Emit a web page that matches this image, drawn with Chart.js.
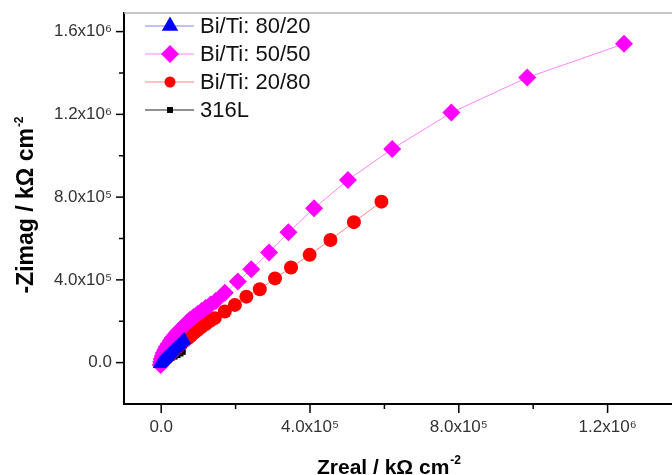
<!DOCTYPE html>
<html><head><meta charset="utf-8">
<script src="https://cdn.jsdelivr.net/npm/chart.js@4.4.0/dist/chart.umd.min.js"></script>
<style>html,body{margin:0;padding:0;background:#fff;overflow:hidden}#wrap{width:672px;height:475px;position:relative}</style>
</head><body><div id="wrap"><canvas id="c" width="672" height="475"></canvas></div>
<script>
const seriesLabels = ['Bi/Ti: 80/20', 'Bi/Ti: 50/50', 'Bi/Ti: 20/80', '316L'];

const bt8020X = [-4.0e3, -1.3e3, 1.3e3, 4.0e3, 6.7e3, 9.4e3, 1.21e4, 1.48e4, 1.75e4, 2.08e4, 2.42e4, 2.75e4, 3.09e4, 3.50e4, 3.90e4, 4.30e4, 4.70e4, 5.10e4, 5.51e4, 5.85e4, 6.18e4];
const bt8020Y = [-6.3e3, -1.5e3, 3.4e3, 8.2e3, 1.31e4, 1.79e4, 2.27e4, 2.75e4, 3.24e4, 3.85e4, 4.45e4, 5.05e4, 5.66e4, 6.38e4, 7.11e4, 7.70e4, 8.31e4, 9.04e4, 9.77e4, 1.04e5, 1.097e5];

const bt5050X = [-1.3e3, 0, 1.3e3, 4.0e3, 6.7e3, 1.08e4, 1.48e4, 2.02e4, 2.55e4, 3.09e4, 3.76e4, 4.44e4, 5.24e4, 6.05e4, 6.85e4, 7.66e4, 8.74e4, 9.81e4, 1.089e5, 1.196e5, 1.331e5, 1.465e5, 1.71e5, 2.06e5, 2.42e5, 2.90e5, 3.42e5, 4.11e5, 5.02e5, 6.21e5, 7.80e5, 9.84e5, 1.244e6];
const bt5050Y = [-1.11e4, 3.4e3, 1.79e4, 3.24e4, 4.69e4, 6.14e4, 7.59e4, 9.04e4, 1.05e5, 1.19e5, 1.34e5, 1.48e5, 1.63e5, 1.77e5, 1.92e5, 2.06e5, 2.21e5, 2.35e5, 2.50e5, 2.64e5, 2.81e5, 2.98e5, 3.38e5, 3.92e5, 4.51e5, 5.32e5, 6.30e5, 7.46e5, 8.83e5, 1.033e6, 1.2085e6, 1.378e6, 1.541e6];

const bt2080X = [1.3e3, 4.0e3, 9.4e3, 1.48e4, 2.02e4, 2.55e4, 3.09e4, 3.63e4, 4.17e4, 4.70e4, 5.51e4, 6.32e4, 7.12e4, 7.93e4, 8.87e4, 9.81e4, 1.089e5, 1.196e5, 1.317e5, 1.438e5, 1.71e5, 1.98e5, 2.29e5, 2.65e5, 3.06e5, 3.49e5, 3.99e5, 4.55e5, 5.18e5, 5.92e5];
const bt2080Y = [-1.5e3, 5.8e3, 1.31e4, 2.27e4, 3.24e4, 4.21e4, 5.17e4, 6.14e4, 7.11e4, 8.07e4, 9.28e4, 1.05e5, 1.17e5, 1.29e5, 1.44e5, 1.58e5, 1.73e5, 1.87e5, 2.02e5, 2.15e5, 2.47e5, 2.79e5, 3.19e5, 3.55e5, 4.07e5, 4.60e5, 5.21e5, 5.93e5, 6.79e5, 7.78e5];

const ss316X = [-4.0e3, 1.3e3, 6.7e3, 1.3e4, 2.0e4, 2.8e4, 3.6e4, 4.4e4, 5.2e4, 5.8e4];
const ss316Y = [-3.0e3, 2.0e3, 6.5e3, 1.1e4, 1.6e4, 2.2e4, 2.9e4, 3.6e4, 4.4e4, 5.2e4];

const xTickValues = [0, 2e5, 4e5, 6e5, 8e5, 1e6, 1.2e6];
const xTickLabels = ['0.0', '', '4.0x10⁵', '', '8.0x10⁵', '', '1.2x10⁶'];
const yTickValues = [0, 2e5, 4e5, 6e5, 8e5, 1e6, 1.2e6, 1.4e6, 1.6e6];
const yTickLabels = ['0.0', '', '4.0x10⁵', '', '8.0x10⁵', '', '1.2x10⁶', '', '1.6x10⁶'];

const xTitle = 'Zreal / kΩ cm';
const yTitle = '-Zimag / kΩ cm';
const titleSup = '-2';

const FAM = '"Liberation Sans", Arial, sans-serif';
const pts = (xs, ys) => xs.map((v, i) => ({x: v, y: ys[i]}));

function mk(label, xs, ys, style, r, color, lineColor) {
  return {label, data: pts(xs, ys), showLine: true, pointStyle: style, pointRadius: r,
    pointBackgroundColor: color, pointBorderWidth: 0, borderColor: lineColor, borderWidth: 1,
    backgroundColor: color, tension: 0};
}

function drawMarker(ctx, style, x, y, r, color) {
  ctx.fillStyle = color;
  ctx.beginPath();
  if (style === 'triangle') {
    ctx.moveTo(x, y - r);
    ctx.lineTo(x + r * 0.866, y + r * 0.5);
    ctx.lineTo(x - r * 0.866, y + r * 0.5);
  } else if (style === 'rectRot') {
    ctx.moveTo(x - r, y); ctx.lineTo(x, y - r); ctx.lineTo(x + r, y); ctx.lineTo(x, y + r);
  } else if (style === 'circle') {
    ctx.arc(x, y, r, 0, Math.PI * 2);
  } else {
    const s = r * Math.SQRT1_2;
    ctx.rect(x - s, y - s, 2 * s, 2 * s);
  }
  ctx.closePath();
  ctx.fill();
}

const legendMarker = [9.5, 9, 5.5, 4.2];

const deco = {
  id: 'deco',
  afterDraw(chart) {
    const {ctx, chartArea: a, scales: {x, y}} = chart;
    ctx.save();
    // top frame
    ctx.strokeStyle = '#b4b4b4'; ctx.lineWidth = 1.5;
    ctx.beginPath(); ctx.moveTo(a.left, a.top); ctx.lineTo(a.right, a.top); ctx.stroke();
    // ticks
    ctx.strokeStyle = '#000'; ctx.lineWidth = 1.5;
    xTickValues.forEach((v, i) => {
      const px = x.getPixelForValue(v); const len = xTickLabels[i] ? 9 : 5;
      ctx.beginPath(); ctx.moveTo(px, a.bottom); ctx.lineTo(px, a.bottom + len); ctx.stroke();
    });
    yTickValues.forEach((v, i) => {
      const py = y.getPixelForValue(v); const len = yTickLabels[i] ? 8 : 5;
      ctx.beginPath(); ctx.moveTo(a.left - len, py); ctx.lineTo(a.left, py); ctx.stroke();
    });
    // axis titles
    ctx.fillStyle = '#000';
    ctx.textBaseline = 'alphabetic';
    const drawTitle = (txt, cx, by, size) => {
      ctx.font = 'bold ' + size + 'px ' + FAM;
      const w1 = ctx.measureText(txt).width;
      ctx.font = 'bold 12px ' + FAM;
      const w2 = ctx.measureText(titleSup).width;
      const sx = cx - (w1 + w2 + 1) / 2;
      ctx.font = 'bold ' + size + 'px ' + FAM;
      ctx.textAlign = 'left';
      ctx.fillText(txt, sx, by);
      ctx.font = 'bold 12px ' + FAM;
      ctx.fillText(titleSup, sx + w1 + 1, by - 10);
    };
    drawTitle(xTitle, 389, 474, 21);
    ctx.save();
    ctx.translate(33, 205);
    ctx.rotate(-Math.PI / 2);
    drawTitle(yTitle, 0, 0, 23);
    ctx.restore();
    // legend
    const ds = chart.data.datasets;
    ds.forEach((d, i) => {
      const ly = 26 + i * 28;
      ctx.strokeStyle = d.borderColor; ctx.lineWidth = 1;
      ctx.beginPath(); ctx.moveTo(145, ly); ctx.lineTo(194, ly); ctx.stroke();
      drawMarker(ctx, d.pointStyle, 170, ly, legendMarker[i], d.pointBackgroundColor);
      ctx.fillStyle = '#111';
      ctx.font = '22px ' + FAM;
      ctx.textAlign = 'left'; ctx.textBaseline = 'middle';
      ctx.fillText(d.label, 200, ly + 1);
    });
    ctx.restore();
  }
};

new Chart(document.getElementById('c'), {
  type: 'scatter',
  data: {
    datasets: [
      mk(seriesLabels[0], bt8020X, bt8020Y, 'triangle', 8, '#0000ff', 'rgba(90,90,255,0.75)'),
      mk(seriesLabels[1], bt5050X, bt5050Y, 'rectRot', 9, '#ff00ff', 'rgba(255,80,255,0.7)'),
      mk(seriesLabels[2], bt2080X, bt2080Y, 'circle', 7, '#ff0000', 'rgba(255,80,80,0.7)'),
      mk(seriesLabels[3], ss316X, ss316Y, 'rect', 4.2, '#000000', '#222')
    ]
  },
  options: {
    responsive: false, animation: false, devicePixelRatio: 1,
    layout: {autoPadding: false, padding: {top: 13, right: 0, bottom: 0, left: 0}},
    plugins: {legend: {display: false}, tooltip: {enabled: false}},
    scales: {
      x: {
        type: 'linear', min: -1e5, max: 1.3731e6,
        afterBuildTicks: s => { s.ticks = xTickValues.map(v => ({value: v})); },
        afterFit: s => { s.height = 71; s.paddingLeft = 0; s.paddingRight = 0; },
        ticks: {autoSkip: false, maxRotation: 0, padding: 4, color: '#333',
          font: {family: FAM, size: 17}, callback: (v, i) => xTickLabels[i]},
        grid: {display: true, drawOnChartArea: false, drawTicks: true, tickLength: 9, tickColor: 'rgba(0,0,0,0)'},
        border: {display: true, color: '#000', width: 2}
      },
      y: {
        type: 'linear', min: -2e5, max: 1.69e6,
        afterBuildTicks: s => { s.ticks = yTickValues.map(v => ({value: v})); },
        afterFit: s => { s.width = 124; s.paddingTop = 0; s.paddingBottom = 0; },
        ticks: {autoSkip: false, padding: 3, color: '#333',
          font: {family: FAM, size: 17}, callback: (v, i) => yTickLabels[i]},
        grid: {display: true, drawOnChartArea: false, drawTicks: true, tickLength: 9, tickColor: 'rgba(0,0,0,0)'},
        border: {display: true, color: '#000', width: 2}
      }
    }
  },
  plugins: [deco]
});
</script>
</body></html>
